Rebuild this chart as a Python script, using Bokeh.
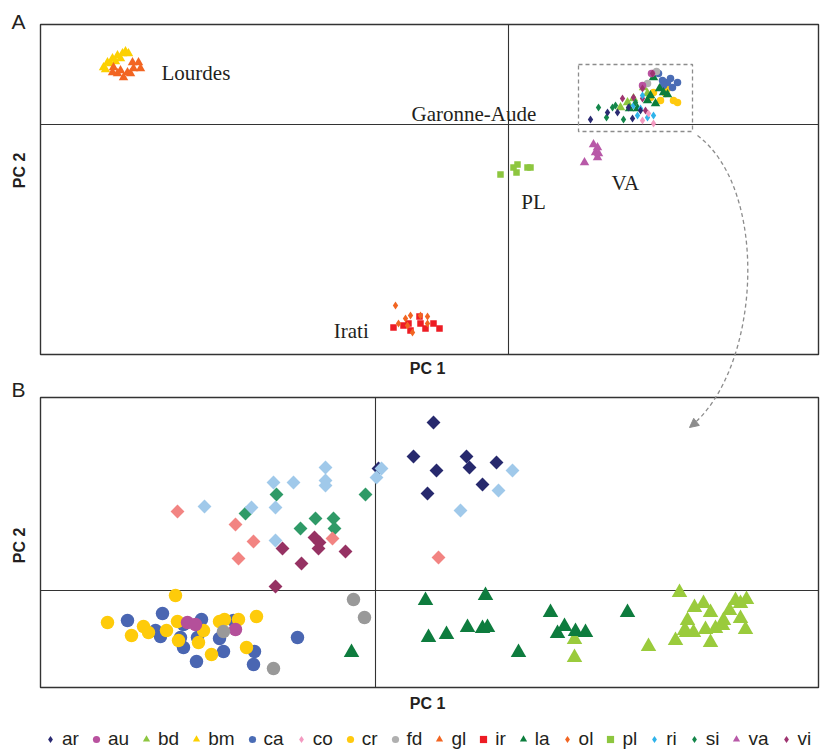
import numpy as np
from bokeh.plotting import figure
from bokeh.models import Range1d, Legend, LegendItem, Arrow, NormalHead, Label
from bokeh.embed import file_html
from bokeh.resources import INLINE

# ---------------- data : panel A (PC1, PC2) ----------------
a_ar_x = [8.2, 9.9, 10.9, 12.0, 12.4, 13.2]
a_ar_y = [0.5, 1.2, 1.2, 1.7, 0.6, 1.4]
a_au_x = [14.3, 13.4]
a_au_y = [5.1, 3.9]
a_bd_x = [11.2, 12.5, 11.9, 13.5, 13.9]
a_bd_y = [1.7, 2.6, 2.2, 3.7, 3.1]
a_bm_x = [-40.5, -40.1, -39.6, -39.1, -38.6, -38.3, -38.0, -39.8, -39.3, -38.8, -40.3]
a_bm_y = [5.7, 6.2, 6.6, 6.9, 7.1, 7.3, 7.1, 6.1, 6.3, 6.6, 5.5]
a_ca_x = [16.2, 16.9, 15.9, 15.4, 15.0, 15.5, 16.4]
a_ca_y = [4.6, 4.2, 4.2, 4.4, 5.1, 3.9, 3.7]
a_co_x = [13.4, 14.5, 14.0]
a_co_y = [0.4, 0.1, 1.1]
a_cr_x = [15.9, 14.5, 15.2, 16.5, 16.9, 14.2, 15.7]
a_cr_y = [3.6, 3.2, 2.4, 2.4, 2.2, 2.7, 3.1]
a_fd_x = [14.8, 13.9]
a_fd_y = [5.3, 4.1]
a_gl_x = [-39.5, -39.6, -39.1, -38.5, -37.8, -37.5, -37.6, -37.0, -36.8, -38.1, -38.8]
a_gl_y = [5.7, 5.2, 5.1, 4.7, 5.1, 5.6, 6.2, 6.2, 5.6, 5.2, 5.4]
a_ir_x = [-11.5, -10.5, -10.0, -8.9, -8.3, -7.5, -6.9, -9.8, -8.8]
a_ir_y = [-20.3, -20.1, -19.9, -19.2, -20.4, -19.9, -20.4, -20.6, -19.9]
a_la_x = [14.5, 15.1, 15.9, 15.5, 14.2, 12.9, 12.1, 14.7, 13.9]
a_la_y = [4.7, 3.6, 3.0, 3.2, 2.9, 1.6, 1.6, 2.1, 2.4]
a_ol_x = [-11.3, -11.0, -10.3, -9.8, -8.8, -8.1, -10.1, -9.6, -8.1]
a_ol_y = [-18.1, -19.9, -19.4, -19.1, -19.1, -19.2, -20.1, -20.8, -19.9]
a_pl_x = [-0.8, 0.5, 0.9, 0.8, 1.9, 2.2]
a_pl_y = [-5.0, -4.3, -4.0, -4.8, -4.3, -4.3]
a_ri_x = [12.5, 13.2, 12.9, 13.9, 14.5, 13.4]
a_ri_y = [1.9, 1.6, 0.9, 0.7, 0.9, 2.9]
a_si_x = [9.0, 9.8, 10.4, 10.7, 11.5, 12.7]
a_si_y = [1.7, 0.7, 1.7, 1.9, 0.5, 2.2]
a_va_x = [8.5, 8.9, 8.7, 8.9, 7.6, 9.0]
a_va_y = [-2.0, -2.3, -2.8, -3.3, -3.8, -2.9]
a_vi_x = [11.4, 12.5, 13.4, 14.4, 13.7, 13.4]
a_vi_y = [2.6, 2.7, 3.6, 5.1, 1.4, 2.6]

# ---------------- data : panel B (zoom on Garonne-Aude) ----------------
b_ar_x = [5.8, 3.8, 9.1, 6.1, 9.4, 12.1, 10.7, 5.2, 0.3]
b_ar_y = [16.8, 13.4, 13.4, 12.0, 12.3, 12.8, 10.6, 9.7, 12.2]
b_ri_x = [-17.1, -12.4, -10.0, -10.0, -10.2, -8.2, -5.0, -5.0, -5.0, 0.1, 0.6, 13.7, 12.3, 8.5]
b_ri_y = [8.4, 8.3, 8.3, 5.0, 10.8, 10.8, 12.3, 11.0, 10.5, 11.3, 12.2, 12.0, 10.0, 8.0]
b_co_x = [-19.8, -14.0, -12.2, -13.7, -4.3, 6.3]
b_co_y = [7.9, 6.6, 4.9, 3.2, 5.2, 3.3]
b_si_x = [-9.9, -13.0, -6.0, -4.2, -7.5, -4.1, -1.0]
b_si_y = [9.6, 7.7, 7.2, 7.2, 6.2, 6.2, 9.6]
b_vi_x = [-6.1, -5.6, -5.7, -9.3, -3.0, -7.4, -10.0]
b_vi_y = [5.3, 4.8, 4.2, 4.2, 3.9, 2.7, 0.4]
b_cr_x = [-20.0, -26.8, -24.4, -23.2, -22.7, -20.9, -19.8, -19.7, -17.7, -17.2, -16.4, -15.6, -15.1, -13.7, -11.9, -12.9]
b_cr_y = [-0.5, -3.2, -4.5, -3.6, -4.2, -4.0, -3.1, -5.0, -5.2, -4.0, -6.4, -3.1, -2.9, -2.9, -2.6, -5.7]
b_ca_x = [-24.8, -21.3, -22.0, -21.5, -19.2, -19.5, -19.2, -17.4, -17.8, -15.6, -15.2, -14.2, -12.1, -12.2, -17.9, -7.8]
b_ca_y = [-3.0, -2.3, -4.0, -4.6, -3.4, -4.7, -5.7, -2.9, -4.7, -4.8, -6.1, -3.0, -6.1, -7.4, -7.1, -4.7]
b_au_x = [-18.8, -18.0, -14.0]
b_au_y = [-3.2, -3.4, -3.9]
b_fd_x = [-2.2, -1.1, -15.2, -10.2]
b_fd_y = [-0.9, -2.7, -4.1, -7.8]
b_la_x = [5.0, 11.0, 5.3, 7.1, 9.2, 10.7, 11.2, 14.3, 17.5, 18.9, 18.2, 20.0, 21.0, 25.2, -2.4]
b_la_y = [-1.0, -0.5, -4.7, -4.4, -3.7, -3.8, -3.7, -6.2, -2.2, -3.6, -4.3, -4.1, -4.2, -2.2, -6.2]
b_bd_x = [30.4, 19.9, 19.9, 27.3, 31.9, 32.8, 33.5, 36.0, 37.1, 36.5, 35.4, 34.8, 36.5, 31.2, 30.9, 31.8,
          33.0, 34.0, 37.0, 30.0, 33.5, 31.1, 34.7]
b_bd_y = [-0.2, -4.9, -6.7, -5.6, -1.7, -1.3, -2.2, -1.0, -0.9, -1.3, -2.0, -3.0, -2.8, -3.0, -4.0, -4.2,
          -3.9, -3.8, -3.9, -5.0, -5.2, -4.2, -3.5]

groups = ["ar", "au", "bd", "bm", "ca", "co", "cr", "fd", "gl", "ir", "la", "ol", "pl", "ri", "si", "va", "vi"]
shapes = ["diamond", "circle", "triangle", "triangle", "circle", "diamond", "circle", "circle", "triangle",
          "square", "triangle", "diamond", "square", "diamond", "diamond", "triangle", "diamond"]
colors_a = ["#2b2a72", "#b9529f", "#8dc63f", "#fcd000", "#4a6cb5", "#f49ac1", "#ffc90e", "#b0b0b0", "#f26522",
            "#ed1c24", "#0b7d3c", "#f26522", "#8dc63f", "#2fb3ea", "#13864a", "#b859a8", "#9e3470"]
colors_b = {"ar": "#27296d", "ri": "#a0c9ea", "co": "#f28482", "si": "#2f9a67", "vi": "#963263",
            "cr": "#fecb0a", "ca": "#4a66b2", "au": "#b4509a", "fd": "#999999", "la": "#0e7c3e", "bd": "#9acb3c"}

# axis limits of each panel (PC units)
a_xlim, a_ylim = (-46.8, 31.0), (-23.0, 10.0)
b_xlim, b_ylim = (-33.5, 44.3), (-9.7, 19.3)
zoom_box_x, zoom_box_y = (7.0, 18.4), (-0.7, 6.0)

# ---------------- layout ----------------
W, H = 820, 753
BOX_A = (40, 818, 24, 354)
BOX_B = (40, 818, 397, 687)

p = figure(width=W, height=H, output_backend="svg", toolbar_location=None,
           x_axis_type=None, y_axis_type=None,
           x_range=Range1d(0, W), y_range=Range1d(H, 0),
           min_border=0, outline_line_color=None,
           background_fill_color="white", border_fill_color="white")
p.grid.visible = False


def panel_ranges(box, xlim, ylim):
    L, R, T, Bt = box
    sx = (xlim[1] - xlim[0]) / (R - L)
    sy = (ylim[1] - ylim[0]) / (Bt - T)
    xr = Range1d(xlim[0] - L * sx, xlim[1] + (W - R) * sx)
    yr = Range1d(ylim[0] - (H - Bt) * sy, ylim[1] + T * sy)
    return xr, yr


xa, ya = panel_ranges(BOX_A, a_xlim, a_ylim)
xb, yb = panel_ranges(BOX_B, b_xlim, b_ylim)
p.extra_x_ranges = {"A": xa, "B": xb}
p.extra_y_ranges = {"A": ya, "B": yb}

FRAME = "#333333"
for nm, xl, yl in (("A", a_xlim, a_ylim), ("B", b_xlim, b_ylim)):
    p.segment(x0=[0, xl[0]], y0=[yl[0], 0], x1=[0, xl[1]], y1=[yl[1], 0],
              line_color=FRAME, line_width=1.1, x_range_name=nm, y_range_name=nm)
    p.quad(left=[xl[0]], right=[xl[1]], bottom=[yl[0]], top=[yl[1]], fill_color=None,
           line_color=FRAME, line_width=1.4, x_range_name=nm, y_range_name=nm)

# dashed zoom box in A
p.quad(left=[zoom_box_x[0]], right=[zoom_box_x[1]], bottom=[zoom_box_y[0]], top=[zoom_box_y[1]],
       fill_color=None, line_color="#8c8c8c", line_width=1.3, line_dash="4 3",
       x_range_name="A", y_range_name="A")

G = globals()


def draw(panel, g, color, size_map, rotated_diamond):
    shp = shapes[groups.index(g)]
    xs = G[f"{panel}_{g}_x"]
    ys = G[f"{panel}_{g}_y"]
    marker, angle = shp, 0.0
    if shp == "diamond" and rotated_diamond:
        marker, angle = "square", np.pi / 4
    return p.scatter(xs, ys, marker=marker, angle=angle, size=size_map[shp],
                     fill_color=color, line_color=None,
                     x_range_name=panel.upper(), y_range_name=panel.upper())


size_a = {"diamond": 8.0, "circle": 7.5, "triangle": 9.5, "square": 6.5}
size_b = {"diamond": 9.8, "circle": 13.5, "triangle": 15.5, "square": 10}

order_a = ["bm", "gl", "pl", "va", "ir", "ol", "cr", "ca", "bd", "la", "fd", "au", "vi", "ri", "si", "ar", "co"]
rend_a = {}
for g in order_a:
    rend_a[g] = draw("a", g, colors_a[groups.index(g)], size_a, False)

order_b = ["bd", "la", "ca", "cr", "au", "fd", "ar", "vi", "si", "co", "ri"]
for g in order_b:
    draw("b", g, colors_b[g], size_b, True)

# curved dashed arrow from the zoom box to panel B
p.bezier(x0=[697], y0=[135], x1=[690], y1=[426], cx0=[770], cy0=[190], cx1=[760], cy1=[370],
         line_color="#8c8c8c", line_width=1.3, line_dash="4 3")
p.add_layout(Arrow(end=NormalHead(size=9, fill_color="#8c8c8c", line_color="#8c8c8c", line_width=1),
                   x_start=694, y_start=423, x_end=689, y_end=427, line_alpha=0))

# texts
SANS = "Liberation Sans"
SERIF = "Liberation Serif"
for txt, x, y in (("A", 18, 21), ("B", 18, 389)):
    p.add_layout(Label(x=x, y=y, text=txt, text_font=SANS, text_font_size="21px", text_color="#231f20",
                       text_align="center", text_baseline="middle"))
for y in (368, 703):
    p.add_layout(Label(x=427, y=y, text="PC 1", text_font=SANS, text_font_style="bold",
                       text_font_size="16px", text_color="#231f20", text_align="center", text_baseline="middle"))
for y in (170, 545):
    p.add_layout(Label(x=19, y=y, text="PC 2", text_font=SANS, text_font_style="bold", angle=np.pi / 2,
                       text_font_size="16px", text_color="#231f20", text_align="center", text_baseline="middle"))
for txt, x, y in (("Lourdes", 161, 72.7), ("Garonne-Aude", 411, 113), ("PL", 520.7, 201.7),
                  ("VA", 611, 182), ("Irati", 333.3, 330.7)):
    p.add_layout(Label(x=x, y=y, text=txt, text_font=SERIF, text_font_size="21px", text_color="#231f20",
                       text_align="left", text_baseline="alphabetic"))

legend = Legend(items=[LegendItem(label=g, renderers=[rend_a[g]]) for g in groups],
                orientation="horizontal", location=(41, 3), glyph_width=18, glyph_height=18,
                label_standoff=3, spacing=8, padding=0, margin=0, label_height=18, label_width=0,
                border_line_color=None, background_fill_alpha=0,
                label_text_font=SANS, label_text_font_size="19px", label_text_color="#231f20")
p.add_layout(legend)

open("out.html", "w").write(file_html(p, INLINE))
